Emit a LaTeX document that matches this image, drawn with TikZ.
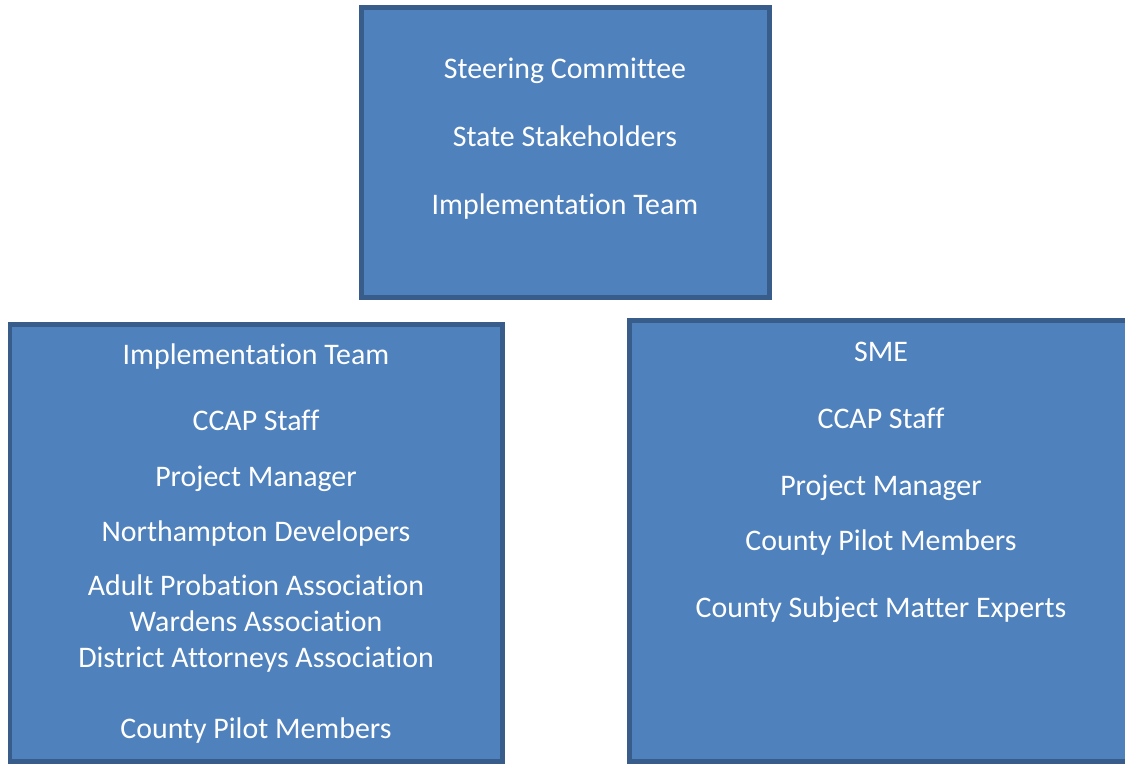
\documentclass[tikz,border=0pt]{standalone}
\usepackage{fontspec}
\setmainfont[Ligatures={NoCommon}]{Carlito}
\usepackage{xcolor}
\usetikzlibrary{positioning}

\definecolor{boxfill}{HTML}{4F81BD}
\definecolor{boxedge}{HTML}{385D8A}

\begin{document}
\begin{tikzpicture}[
        x=0.02cm, y=-0.02cm,
        panel/.style={draw=boxedge, fill=boxfill, line width=0.1cm},
        lbl/.style={text=white, anchor=base, inner sep=0pt,
                    font=\fontsize{17}{20}\selectfont}
    ]
    \useasboundingbox (0,0) rectangle (1125,764);

    % the three boxes
    \draw[panel] (361.5,7.5) rectangle (769.5,297.5);
    \draw[panel] (10,324.5) rectangle (502.5,761.5);
    \draw[panel] (629,320.5) rectangle (1130,761.5);

    % top box
    \node[lbl] (steer) at (565,78)  {Steering Committee};
    \node[lbl] (state) at (565,146) {State Stakeholders};
    \node[lbl] (impl)  at (565,214) {Implementation Team};

    % left box
    \node[lbl] (limpl) at (256,364) {Implementation Team};
    \node[lbl] (lccap) at (256,430) {CCAP Staff};
    \node[lbl] (lpm)   at (256,486) {Project Manager};
    \node[lbl] (ldev)  at (256,541) {Northampton Developers};
    \node[lbl] (lapa)  at (256,595) {Adult Probation Association};
    \node[lbl] (lwa)   at (256,631) {Wardens Association};
    \node[lbl] (ldaa)  at (256,667) {District Attorneys Association};
    \node[lbl] (lcpm)  at (256,738) {County Pilot Members};

    % right box
    \node[lbl] (rsme)  at (881,361) {SME};
    \node[lbl] (rccap) at (881,428) {CCAP Staff};
    \node[lbl] (rpm)   at (881,495) {Project Manager};
    \node[lbl] (rcpm)  at (881,550) {County Pilot Members};
    \node[lbl] (rsmex) at (881,617) {County Subject Matter Experts};
\end{tikzpicture}
\end{document}
